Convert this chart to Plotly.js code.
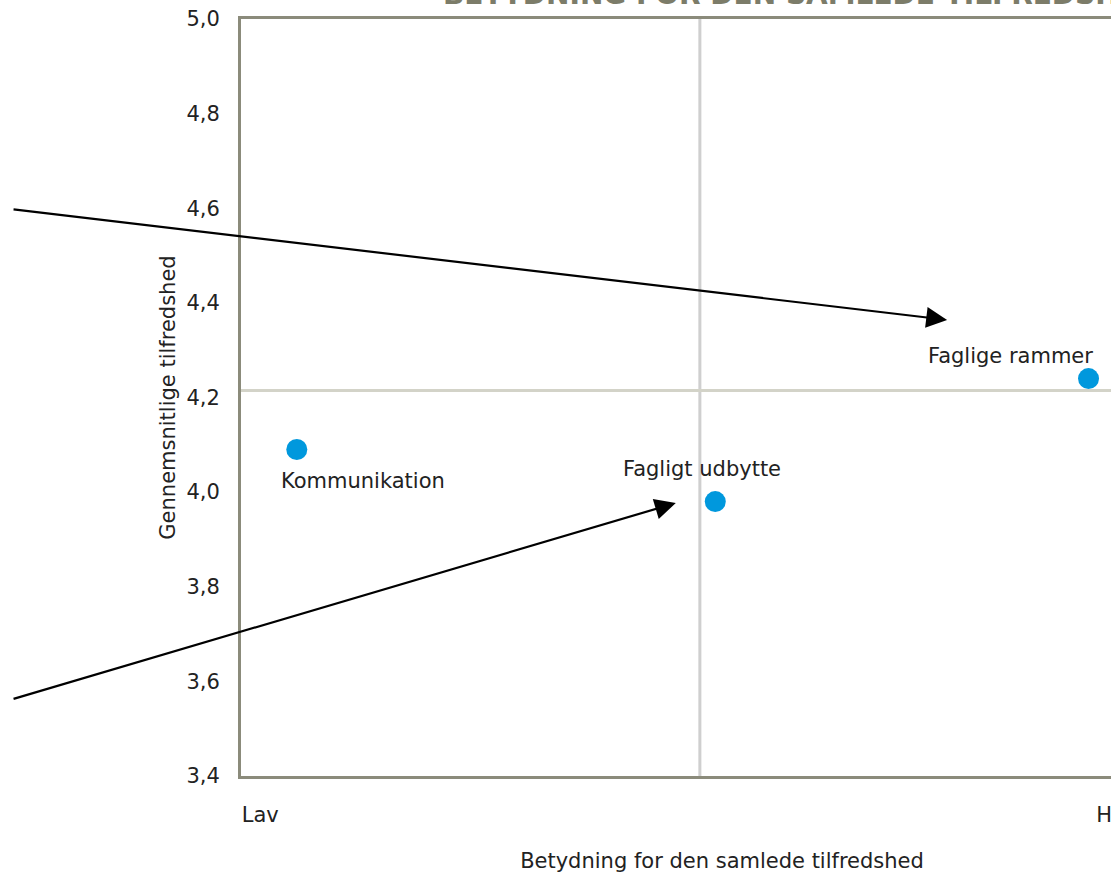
<!DOCTYPE html>
<html><head><meta charset="utf-8">
<script src="https://cdn.plot.ly/plotly-3.0.1.min.js"></script>
<style>
html,body{margin:0;padding:0;width:1111px;height:873px;overflow:hidden;background:#fff;}
#chart{position:absolute;left:0;top:-30px;width:1243px;height:903px;}
</style></head>
<body><div id="chart"></div>
<script>
// Data
const categories = ["Kommunikation", "Fagligt udbytte", "Faglige rammer"];
const importance = [5.8, 49.3, 88.1];        // Betydning (relative, Lav -> Høj)
const satisfaction = [4.09, 3.98, 4.24];     // Gennemsnitlige tilfredshed
const meanImportance = 47.7;
const meanSatisfaction = 4.215;
const xTickVals = [2.0, 90.7];
const xTickText = ["Lav", "Høj"];
const yTickVals = [3.4, 3.6, 3.8, 4.0, 4.2, 4.4, 4.6, 4.8, 5.0];
// arrows: [tailX, tailY, headX, headY]
const arrows = [
  [-23.8, 4.598, 73.4, 4.364],
  [-23.8, 3.562, 45.2, 3.977]
];

const font = "DejaVu Sans, Verdana, sans-serif";
const labelPlacement = [
  {xanchor:"left", yanchor:"top", xshift:-18, yshift:-17},
  {xanchor:"center", yanchor:"bottom", xshift:-13, yshift:19},
  {xanchor:"right", yanchor:"bottom", xshift:6, yshift:9}
];
const annotations = [];
categories.forEach((c,i)=>{
  annotations.push(Object.assign({
    x: importance[i], y: satisfaction[i], xref:"x", yref:"y",
    text: c, showarrow:false,
    font:{family:font, size:21, color:"#222"}
  }, labelPlacement[i]));
});
arrows.forEach(a=>{
  annotations.push({
    x:a[2], y:a[3], ax:a[0], ay:a[1], xref:"x", yref:"y", axref:"x", ayref:"y",
    showarrow:true, arrowhead:2, arrowsize:1.9, arrowwidth:2.2, arrowcolor:"#000", text:""
  });
});
annotations.push({
  xref:"paper", yref:"paper", x:0.2075, y:1.0, yshift:6, xanchor:"left", yanchor:"bottom",
  text:"<b>BETYDNING FOR DEN SAMLEDE TILFREDSHED</b>", showarrow:false,
  font:{family:font, size:28, color:"#7c7c69"}
});

const trace = {
  x: importance, y: satisfaction, type:"scatter", mode:"markers",
  marker:{size:21, color:"#0098dd"}, cliponaxis:false, hoverinfo:"skip"
};

const layout = {
  width:1243, height:903,
  margin:{l:241, r:40, t:49, b:97},
  paper_bgcolor:"#fff", plot_bgcolor:"#fff",
  separators:",.",
  showlegend:false,
  xaxis:{
    range:[0,100], showgrid:false, zeroline:false,
    showline:true, linecolor:"#8b8b7b", linewidth:3, mirror:true,
    tickvals:xTickVals, ticktext:xTickText, ticks:"", ticklabelstandoff:18,
    tickfont:{family:font, size:21, color:"#222"},
    title:{text:"Betydning for den samlede tilfredshed", font:{family:font, size:21, color:"#222"}, standoff:29}
  },
  yaxis:{
    range:[3.4,5.0], showgrid:false, zeroline:false,
    showline:true, linecolor:"#8b8b7b", linewidth:3, mirror:true,
    tickvals:yTickVals, tickformat:".1f", ticks:"", ticklabelstandoff:14,
    tickfont:{family:font, size:21, color:"#222"},
    title:{text:"Gennemsnitlige tilfredshed", font:{family:font, size:21, color:"#222"}, standoff:6}
  },
  shapes:[
    {type:"line", xref:"x", yref:"paper", x0:meanImportance, x1:meanImportance, y0:0, y1:1, line:{color:"#cfcfcf", width:3}, layer:"below"},
    {type:"line", xref:"paper", yref:"y", x0:0, x1:1, y0:meanSatisfaction, y1:meanSatisfaction, line:{color:"#d3d3c8", width:3}, layer:"below"}
  ],
  annotations: annotations
};
Plotly.newPlot("chart", [trace], layout, {staticPlot:true, displayModeBar:false});
</script></body></html>
